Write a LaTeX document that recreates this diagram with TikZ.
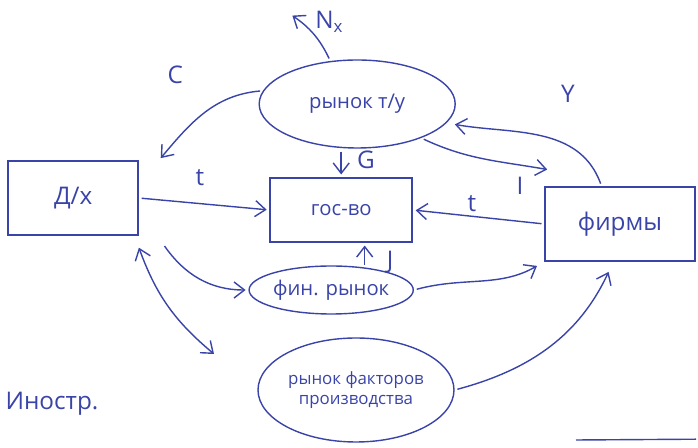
\documentclass[tikz,border=0pt]{standalone}
\usepackage{fontspec}
\setmainfont{Open Sans}
\usetikzlibrary{positioning,arrows.meta,shapes.geometric}
\definecolor{ink}{RGB}{58,68,168}
\begin{document}
\begin{tikzpicture}[font=\Large, color=ink, line width=1pt,
  bx/.style={draw, rectangle, minimum width=#1, minimum height=1.85cm},
  mk/.style={draw, ellipse, inner sep=0pt},
  e/.style={-{Straight Barb[length=2.6mm, width=4mm]}, shorten >=2pt, shorten <=2pt},
  ee/.style={{Straight Barb[length=2.6mm, width=4mm]}-{Straight Barb[length=2.6mm, width=4mm]}},
  lb/.style={font=\LARGE}]
\useasboundingbox (0,0) rectangle (17.45,11.2);
\node[bx=3.25cm, font=\LARGE] (dx) at (1.83,6.25) {Д/х};
\node[mk, minimum width=4.9cm, minimum height=2.2cm] (tu) at (8.93,8.6) {рынок т/у};
\node[bx=3.55cm, minimum height=1.6cm] (gv) at (8.53,5.95) {гос-во};
\node[mk, minimum width=3.7cm, minimum height=1.2cm] (fr) at (8.28,3.95) {фин. рынок};
\node[mk, minimum width=4.9cm, minimum height=2.6cm, align=center, font=\large] (rf) at (8.9,1.45) {рынок факторов\\производства};
\node[bx=3.75cm, font=\LARGE] (fi) at (15.5,5.6) {фирмы};
\node[font=\LARGE] (in) at (1.3,1.1) {Иностр.};
\coordinate (nx) at (7.25,10.85);
\coordinate (df) at (5.35,2.35);
\coordinate (fa) at (13.75,6.95);
\draw[e] (tu.122) to[bend right=15] (nx);
\node[lb, right=5mm of nx, yshift=-2mm] {N\textsubscript{x}};
\draw[e] (tu.172) to[out=185,in=50] ([xshift=5mm]dx.north east);
\node[lb] at (4.38,9.33) {C};
\draw[e, shorten >=6pt] (fi.116) to[out=110,in=-10] (tu.-12);
\node[lb] at (14.2,8.85) {Y};
\draw[e] (tu.-28) to[out=-25,in=170] (fa);
\node[lb] at (13.0,6.55) {I};
\draw[e] (dx.east) -- (gv.west);
\node[lb] at (5.0,6.75) {t};
\draw[e] (fi.west) -- (gv.east);
\node[lb] at (11.8,6.1) {t};
\draw[e] (gv.north |- tu.south) -- (gv.north);
\node[lb] at (9.15,7.2) {G};
\draw[e] (fr.34) -- (fr.34 |- gv.south);
\node[lb] at (9.75,4.65) {J};
\draw[e] ([xshift=6mm,yshift=-2mm]dx.south east) to[out=-55,in=180] (fr.west);
\draw[ee] ([yshift=-3mm]dx.south east) to[out=-70,in=140] (df);
\draw[e, shorten >=6pt] (fr.east) to[out=15,in=-150] (fi.south west);
\draw[e, shorten >=8pt] (rf.east) to[out=15,in=-115] (fi.-100);
\draw (14.4,0.2) -- (17.4,0.22);
\end{tikzpicture}
\end{document}
